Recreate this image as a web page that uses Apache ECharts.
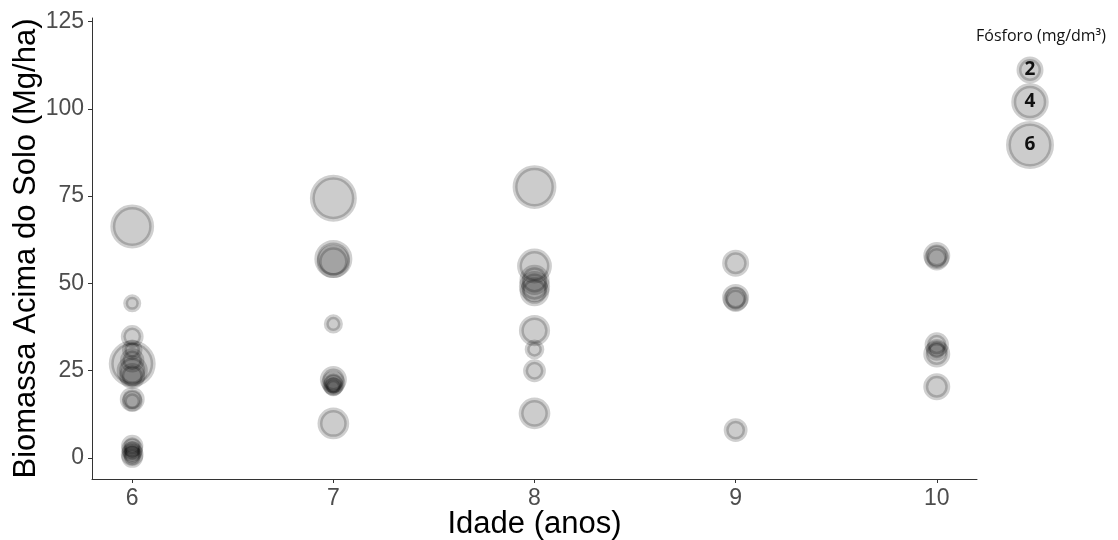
<!DOCTYPE html>
<html>
<head>
<meta charset="utf-8">
<script src="https://cdn.jsdelivr.net/npm/echarts@6/dist/echarts.min.js"></script>
<style>
html,body{margin:0;padding:0;background:#fff;}
#chart{width:1118px;height:540px;}
</style>
</head>
<body>
<div id="chart"></div>
<script>
// Data
var idade = [6,6,6,6,6,6,6,6,6,6,6,6,6,6,6,
             7,7,7,7,7,7,7,7,7,
             8,8,8,8,8,8,8,8,8,
             9,9,9,9,
             10,10,10,10,10,10];
var biomassa = [66.3,44.3,34.8,31.0,28.0,27.0,25.0,23.5,16.8,16.3,3.5,2.5,1.8,1.0,0.3,
                74.4,57.0,56.3,38.4,22.5,21.5,20.8,20.4,9.9,
                77.6,55.0,51.0,49.1,47.7,36.5,31.1,25.0,12.8,
                55.8,46.0,45.4,8.0,
                58.0,57.3,32.5,31.0,29.8,20.4];
var fosforo = [5.2,0.3,1.2,0.8,1.5,5.8,2.8,1.8,1.6,0.8,1.1,1.0,0.8,1.2,1.0,
               5.8,4.1,3.2,0.5,2.0,1.4,0.9,0.5,2.9,
               5.2,3.5,2.6,2.8,2.5,2.8,0.6,1.2,2.9,
               2.0,2.0,1.6,1.4,
               2.0,1.6,1.5,1.0,2.0,2.0];
var xTicks = [6,7,8,9,10];
var yTicks = [0,25,50,75,100,125];
var legendValues = [2,4,6];

function sizeOf(p){ return 11.5 + 5.25 * p; }

var fillC = 'rgba(0,0,0,0.20)';
var strokeC = 'rgba(0,0,0,0.19)';
var bw = 5;

var pts = idade.map(function(x,i){ return [x, biomassa[i], fosforo[i]]; });

var legendY = [70, 102, 145];
var graphics = [{
  type:'text', x:1041, y:36,
  style:{ text:'Fósforo (mg/dm³)', font:'16px "Open Sans", "Noto Sans", sans-serif', fill:'#111', align:'center', verticalAlign:'middle' }
}];
legendValues.forEach(function(v,i){
  graphics.push({
    type:'circle', shape:{ cx:1030, cy:legendY[i], r: sizeOf(v)/2 },
    style:{ fill: fillC, stroke: strokeC, lineWidth: bw }
  });
  graphics.push({
    type:'text', x:1030, y:legendY[i],
    style:{ text:String(v), font:'bold 19px "Open Sans", "Noto Sans", sans-serif', fill:'#111', align:'center', verticalAlign:'middle' }
  });
});

var chart = echarts.init(document.getElementById('chart'));
chart.setOption({
  animation:false,
  backgroundColor:'#fff',
  grid:{ left:92, right:141, top:18, bottom:61, containLabel:false, outerBoundsMode:'none' },
  xAxis:{
    type:'value', min:5.8, max:10.2,
    name:'Idade (anos)', nameLocation:'middle', nameGap:30, nameMoveOverlap:false,
    nameTextStyle:{ fontSize:31, color:'#000', fontFamily:'"Liberation Sans", Arial, sans-serif' },
    splitLine:{show:false},
    axisLine:{ show:true, onZero:false, lineStyle:{ color:'#333', width:1 } },
    axisTick:{ show:true, length:4, lineStyle:{ color:'#333' }, customValues: xTicks },
    axisLabel:{ fontSize:23, color:'#4d4d4d', margin:8, fontFamily:'"Liberation Sans", Arial, sans-serif', customValues: xTicks }
  },
  yAxis:{
    type:'value', min:-6, max:126,
    name:'Biomassa Acima do Solo (Mg/ha)', nameLocation:'middle', nameGap:50, nameRotate:90, nameMoveOverlap:false,
    nameTextStyle:{ fontSize:31, color:'#000', fontFamily:'"Liberation Sans", Arial, sans-serif' },
    splitLine:{show:false},
    axisLine:{ show:true, onZero:false, lineStyle:{ color:'#333', width:1 } },
    axisTick:{ show:true, length:4, lineStyle:{ color:'#333' }, customValues: yTicks },
    axisLabel:{ fontSize:23, color:'#4d4d4d', margin:8, fontFamily:'"Liberation Sans", Arial, sans-serif', customValues: yTicks }
  },
  series:[{
    type:'scatter',
    data: pts,
    symbol:'circle',
    symbolSize:function(v){ return sizeOf(v[2]); },
    itemStyle:{ color: fillC, borderColor: strokeC, borderWidth: bw, opacity:1 },
    emphasis:{ disabled:true }
  }],
  graphic: graphics
});
</script>
</body>
</html>
